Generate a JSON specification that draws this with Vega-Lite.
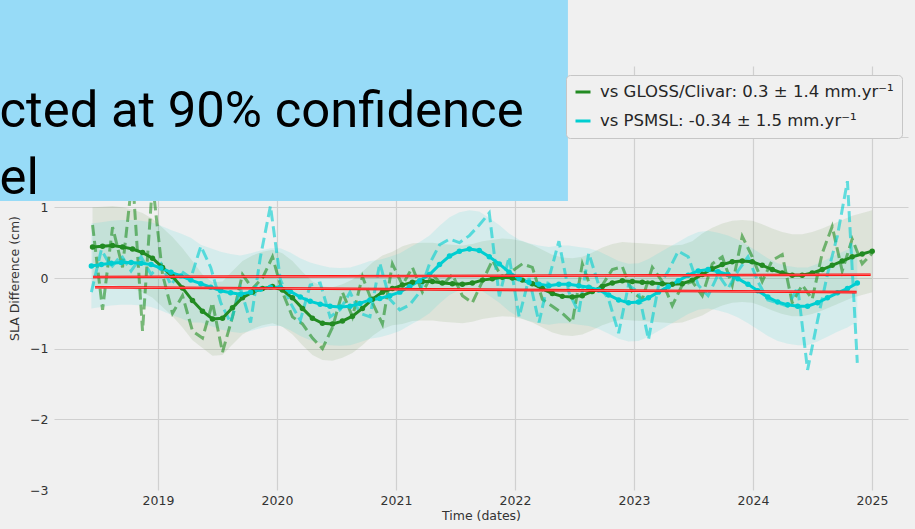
{
"$schema":"https://vega.github.io/schema/vega-lite/v6.json",
"width":854,"height":424,
"autosize":{"type":"none"},
"padding":{"left":54,"top":66,"right":7,"bottom":39},
"background":"#f0f0f0",
"config":{
 "view":{"stroke":null},
 "font":"DejaVu Sans",
 "axis":{"zindex":0,"grid":true,"gridColor":"#d0d0d0","gridWidth":1.2,"domain":false,"ticks":false,"labelFont":"DejaVu Sans","labelFontSize":12.5,"labelColor":"#333333","titleFont":"DejaVu Sans","titleFontSize":12.5,"titleFontWeight":"normal","titleColor":"#333333"}
},
"datasets":{
"series":[
{"s":"G","t":2018.450,"raw":0.75,"sm":0.44,"lo":-0.12,"hi":1.00},
{"s":"G","t":2018.534,"raw":-0.45,"sm":0.45,"lo":-0.11,"hi":1.01},
{"s":"G","t":2018.618,"raw":0.72,"sm":0.46,"lo":-0.10,"hi":1.02},
{"s":"G","t":2018.702,"raw":0.15,"sm":0.44,"lo":-0.12,"hi":1.00},
{"s":"G","t":2018.786,"raw":1.45,"sm":0.41,"lo":-0.15,"hi":0.97},
{"s":"G","t":2018.870,"raw":-0.75,"sm":0.36,"lo":-0.20,"hi":0.92},
{"s":"G","t":2018.954,"raw":1.35,"sm":0.28,"lo":-0.28,"hi":0.84},
{"s":"G","t":2019.038,"raw":0.05,"sm":0.15,"lo":-0.41,"hi":0.71},
{"s":"G","t":2019.122,"raw":-0.50,"sm":0.02,"lo":-0.54,"hi":0.58},
{"s":"G","t":2019.206,"raw":-0.25,"sm":-0.14,"lo":-0.70,"hi":0.42},
{"s":"G","t":2019.290,"raw":-0.75,"sm":-0.32,"lo":-0.88,"hi":0.24},
{"s":"G","t":2019.374,"raw":-0.85,"sm":-0.47,"lo":-0.99,"hi":0.05},
{"s":"G","t":2019.458,"raw":-0.35,"sm":-0.58,"lo":-1.10,"hi":-0.06},
{"s":"G","t":2019.542,"raw":-1.05,"sm":-0.57,"lo":-1.09,"hi":-0.05},
{"s":"G","t":2019.626,"raw":-0.55,"sm":-0.42,"lo":-0.94,"hi":0.10},
{"s":"G","t":2019.710,"raw":0.05,"sm":-0.28,"lo":-0.80,"hi":0.24},
{"s":"G","t":2019.794,"raw":-0.15,"sm":-0.20,"lo":-0.72,"hi":0.32},
{"s":"G","t":2019.878,"raw":0.00,"sm":-0.15,"lo":-0.67,"hi":0.37},
{"s":"G","t":2019.962,"raw":0.30,"sm":-0.12,"lo":-0.64,"hi":0.40},
{"s":"G","t":2020.046,"raw":-0.20,"sm":-0.17,"lo":-0.69,"hi":0.35},
{"s":"G","t":2020.130,"raw":-0.55,"sm":-0.28,"lo":-0.80,"hi":0.24},
{"s":"G","t":2020.214,"raw":-0.65,"sm":-0.43,"lo":-0.95,"hi":0.09},
{"s":"G","t":2020.298,"raw":-0.85,"sm":-0.57,"lo":-1.09,"hi":-0.05},
{"s":"G","t":2020.382,"raw":-1.00,"sm":-0.64,"lo":-1.16,"hi":-0.12},
{"s":"G","t":2020.466,"raw":-0.70,"sm":-0.65,"lo":-1.17,"hi":-0.13},
{"s":"G","t":2020.550,"raw":-0.20,"sm":-0.61,"lo":-1.13,"hi":-0.09},
{"s":"G","t":2020.634,"raw":-0.55,"sm":-0.54,"lo":-1.06,"hi":-0.02},
{"s":"G","t":2020.718,"raw":0.02,"sm":-0.43,"lo":-0.95,"hi":0.09},
{"s":"G","t":2020.802,"raw":-0.35,"sm":-0.30,"lo":-0.82,"hi":0.22},
{"s":"G","t":2020.886,"raw":-0.65,"sm":-0.20,"lo":-0.72,"hi":0.32},
{"s":"G","t":2020.970,"raw":0.20,"sm":-0.15,"lo":-0.67,"hi":0.37},
{"s":"G","t":2021.054,"raw":-0.10,"sm":-0.10,"lo":-0.65,"hi":0.45},
{"s":"G","t":2021.138,"raw":0.15,"sm":-0.06,"lo":-0.61,"hi":0.49},
{"s":"G","t":2021.222,"raw":-0.20,"sm":-0.05,"lo":-0.60,"hi":0.50},
{"s":"G","t":2021.306,"raw":0.05,"sm":-0.05,"lo":-0.60,"hi":0.50},
{"s":"G","t":2021.390,"raw":-0.10,"sm":-0.07,"lo":-0.62,"hi":0.48},
{"s":"G","t":2021.474,"raw":0.05,"sm":-0.08,"lo":-0.63,"hi":0.47},
{"s":"G","t":2021.558,"raw":-0.25,"sm":-0.09,"lo":-0.64,"hi":0.46},
{"s":"G","t":2021.642,"raw":-0.35,"sm":-0.07,"lo":-0.62,"hi":0.48},
{"s":"G","t":2021.726,"raw":-0.05,"sm":-0.03,"lo":-0.58,"hi":0.52},
{"s":"G","t":2021.810,"raw":0.25,"sm":-0.01,"lo":-0.56,"hi":0.54},
{"s":"G","t":2021.894,"raw":0.00,"sm":0.01,"lo":-0.54,"hi":0.56},
{"s":"G","t":2021.978,"raw":0.10,"sm":0.00,"lo":-0.55,"hi":0.55},
{"s":"G","t":2022.062,"raw":0.20,"sm":-0.03,"lo":-0.58,"hi":0.52},
{"s":"G","t":2022.146,"raw":0.15,"sm":-0.08,"lo":-0.63,"hi":0.47},
{"s":"G","t":2022.230,"raw":-0.30,"sm":-0.15,"lo":-0.70,"hi":0.40},
{"s":"G","t":2022.314,"raw":-0.40,"sm":-0.22,"lo":-0.77,"hi":0.33},
{"s":"G","t":2022.398,"raw":-0.50,"sm":-0.26,"lo":-0.81,"hi":0.29},
{"s":"G","t":2022.482,"raw":-0.63,"sm":-0.27,"lo":-0.82,"hi":0.28},
{"s":"G","t":2022.566,"raw":0.20,"sm":-0.25,"lo":-0.80,"hi":0.30},
{"s":"G","t":2022.650,"raw":-0.20,"sm":-0.19,"lo":-0.74,"hi":0.36},
{"s":"G","t":2022.734,"raw":-0.10,"sm":-0.12,"lo":-0.67,"hi":0.43},
{"s":"G","t":2022.818,"raw":0.12,"sm":-0.07,"lo":-0.62,"hi":0.48},
{"s":"G","t":2022.902,"raw":0.16,"sm":-0.04,"lo":-0.59,"hi":0.51},
{"s":"G","t":2022.986,"raw":-0.20,"sm":-0.05,"lo":-0.60,"hi":0.50},
{"s":"G","t":2023.070,"raw":-0.30,"sm":-0.06,"lo":-0.61,"hi":0.49},
{"s":"G","t":2023.154,"raw":0.15,"sm":-0.07,"lo":-0.62,"hi":0.48},
{"s":"G","t":2023.238,"raw":-0.05,"sm":-0.08,"lo":-0.63,"hi":0.47},
{"s":"G","t":2023.322,"raw":-0.39,"sm":-0.09,"lo":-0.64,"hi":0.46},
{"s":"G","t":2023.406,"raw":-0.10,"sm":-0.08,"lo":-0.63,"hi":0.47},
{"s":"G","t":2023.490,"raw":-0.05,"sm":-0.03,"lo":-0.58,"hi":0.52},
{"s":"G","t":2023.574,"raw":-0.25,"sm":0.05,"lo":-0.53,"hi":0.63},
{"s":"G","t":2023.658,"raw":0.20,"sm":0.13,"lo":-0.45,"hi":0.71},
{"s":"G","t":2023.742,"raw":0.30,"sm":0.19,"lo":-0.39,"hi":0.77},
{"s":"G","t":2023.826,"raw":-0.10,"sm":0.23,"lo":-0.35,"hi":0.81},
{"s":"G","t":2023.910,"raw":0.59,"sm":0.24,"lo":-0.34,"hi":0.82},
{"s":"G","t":2023.994,"raw":0.30,"sm":0.23,"lo":-0.35,"hi":0.81},
{"s":"G","t":2024.078,"raw":-0.05,"sm":0.18,"lo":-0.40,"hi":0.76},
{"s":"G","t":2024.162,"raw":0.25,"sm":0.12,"lo":-0.46,"hi":0.70},
{"s":"G","t":2024.246,"raw":0.33,"sm":0.07,"lo":-0.51,"hi":0.65},
{"s":"G","t":2024.330,"raw":-0.35,"sm":0.04,"lo":-0.54,"hi":0.62},
{"s":"G","t":2024.414,"raw":-0.10,"sm":0.04,"lo":-0.54,"hi":0.62},
{"s":"G","t":2024.498,"raw":-0.30,"sm":0.07,"lo":-0.51,"hi":0.65},
{"s":"G","t":2024.582,"raw":0.35,"sm":0.12,"lo":-0.46,"hi":0.70},
{"s":"G","t":2024.666,"raw":0.73,"sm":0.18,"lo":-0.40,"hi":0.76},
{"s":"G","t":2024.750,"raw":0.10,"sm":0.24,"lo":-0.34,"hi":0.82},
{"s":"G","t":2024.834,"raw":0.55,"sm":0.30,"lo":-0.28,"hi":0.88},
{"s":"G","t":2024.918,"raw":0.20,"sm":0.34,"lo":-0.24,"hi":0.92},
{"s":"G","t":2025.002,"raw":0.35,"sm":0.38,"lo":-0.20,"hi":0.96},
{"s":"C","t":2018.440,"raw":-0.20,"sm":0.17,"lo":-0.43,"hi":0.77},
{"s":"C","t":2018.524,"raw":0.40,"sm":0.19,"lo":-0.41,"hi":0.79},
{"s":"C","t":2018.607,"raw":0.15,"sm":0.21,"lo":-0.39,"hi":0.81},
{"s":"C","t":2018.691,"raw":0.32,"sm":0.22,"lo":-0.38,"hi":0.82},
{"s":"C","t":2018.774,"raw":0.10,"sm":0.22,"lo":-0.38,"hi":0.82},
{"s":"C","t":2018.858,"raw":0.30,"sm":0.21,"lo":-0.39,"hi":0.81},
{"s":"C","t":2018.942,"raw":0.05,"sm":0.19,"lo":-0.41,"hi":0.79},
{"s":"C","t":2019.025,"raw":0.20,"sm":0.14,"lo":-0.46,"hi":0.74},
{"s":"C","t":2019.109,"raw":-0.10,"sm":0.08,"lo":-0.52,"hi":0.68},
{"s":"C","t":2019.192,"raw":0.10,"sm":0.03,"lo":-0.57,"hi":0.63},
{"s":"C","t":2019.276,"raw":0.00,"sm":-0.03,"lo":-0.63,"hi":0.57},
{"s":"C","t":2019.360,"raw":0.45,"sm":-0.08,"lo":-0.63,"hi":0.47},
{"s":"C","t":2019.443,"raw":0.15,"sm":-0.13,"lo":-0.68,"hi":0.42},
{"s":"C","t":2019.527,"raw":-0.35,"sm":-0.18,"lo":-0.73,"hi":0.37},
{"s":"C","t":2019.610,"raw":-0.63,"sm":-0.21,"lo":-0.76,"hi":0.34},
{"s":"C","t":2019.694,"raw":-0.15,"sm":-0.23,"lo":-0.78,"hi":0.32},
{"s":"C","t":2019.778,"raw":-0.63,"sm":-0.20,"lo":-0.75,"hi":0.35},
{"s":"C","t":2019.861,"raw":0.30,"sm":-0.16,"lo":-0.71,"hi":0.39},
{"s":"C","t":2019.945,"raw":1.02,"sm":-0.13,"lo":-0.68,"hi":0.42},
{"s":"C","t":2020.028,"raw":-0.02,"sm":-0.13,"lo":-0.68,"hi":0.42},
{"s":"C","t":2020.112,"raw":-0.35,"sm":-0.19,"lo":-0.74,"hi":0.36},
{"s":"C","t":2020.196,"raw":-0.60,"sm":-0.27,"lo":-0.82,"hi":0.28},
{"s":"C","t":2020.279,"raw":-0.10,"sm":-0.33,"lo":-0.88,"hi":0.22},
{"s":"C","t":2020.363,"raw":-0.07,"sm":-0.37,"lo":-0.92,"hi":0.18},
{"s":"C","t":2020.446,"raw":-0.55,"sm":-0.40,"lo":-0.95,"hi":0.15},
{"s":"C","t":2020.530,"raw":-0.45,"sm":-0.41,"lo":-0.96,"hi":0.14},
{"s":"C","t":2020.614,"raw":-0.20,"sm":-0.40,"lo":-0.95,"hi":0.15},
{"s":"C","t":2020.697,"raw":-0.50,"sm":-0.36,"lo":-0.91,"hi":0.19},
{"s":"C","t":2020.781,"raw":-0.55,"sm":-0.31,"lo":-0.86,"hi":0.24},
{"s":"C","t":2020.864,"raw":0.21,"sm":-0.29,"lo":-0.84,"hi":0.26},
{"s":"C","t":2020.948,"raw":-0.30,"sm":-0.25,"lo":-0.80,"hi":0.30},
{"s":"C","t":2021.032,"raw":-0.45,"sm":-0.20,"lo":-0.75,"hi":0.35},
{"s":"C","t":2021.115,"raw":-0.38,"sm":-0.12,"lo":-0.67,"hi":0.43},
{"s":"C","t":2021.199,"raw":-0.20,"sm":-0.04,"lo":-0.59,"hi":0.51},
{"s":"C","t":2021.282,"raw":0.20,"sm":0.05,"lo":-0.50,"hi":0.60},
{"s":"C","t":2021.366,"raw":0.47,"sm":0.19,"lo":-0.36,"hi":0.74},
{"s":"C","t":2021.450,"raw":0.55,"sm":0.31,"lo":-0.24,"hi":0.86},
{"s":"C","t":2021.533,"raw":0.50,"sm":0.38,"lo":-0.17,"hi":0.93},
{"s":"C","t":2021.617,"raw":0.60,"sm":0.41,"lo":-0.14,"hi":0.96},
{"s":"C","t":2021.700,"raw":0.75,"sm":0.39,"lo":-0.16,"hi":0.94},
{"s":"C","t":2021.784,"raw":0.92,"sm":0.30,"lo":-0.25,"hi":0.85},
{"s":"C","t":2021.868,"raw":-0.26,"sm":0.20,"lo":-0.35,"hi":0.75},
{"s":"C","t":2021.951,"raw":0.30,"sm":0.08,"lo":-0.47,"hi":0.63},
{"s":"C","t":2022.035,"raw":-0.55,"sm":-0.01,"lo":-0.56,"hi":0.54},
{"s":"C","t":2022.118,"raw":0.00,"sm":-0.06,"lo":-0.61,"hi":0.49},
{"s":"C","t":2022.202,"raw":-0.63,"sm":-0.09,"lo":-0.64,"hi":0.46},
{"s":"C","t":2022.286,"raw":0.00,"sm":-0.11,"lo":-0.66,"hi":0.44},
{"s":"C","t":2022.369,"raw":0.52,"sm":-0.09,"lo":-0.64,"hi":0.46},
{"s":"C","t":2022.453,"raw":-0.20,"sm":-0.09,"lo":-0.64,"hi":0.46},
{"s":"C","t":2022.536,"raw":-0.49,"sm":-0.11,"lo":-0.66,"hi":0.44},
{"s":"C","t":2022.620,"raw":0.35,"sm":-0.13,"lo":-0.68,"hi":0.42},
{"s":"C","t":2022.704,"raw":-0.10,"sm":-0.17,"lo":-0.72,"hi":0.38},
{"s":"C","t":2022.787,"raw":-0.30,"sm":-0.24,"lo":-0.79,"hi":0.31},
{"s":"C","t":2022.871,"raw":-0.78,"sm":-0.31,"lo":-0.86,"hi":0.24},
{"s":"C","t":2022.954,"raw":-0.10,"sm":-0.35,"lo":-0.90,"hi":0.20},
{"s":"C","t":2023.038,"raw":-0.20,"sm":-0.34,"lo":-0.89,"hi":0.21},
{"s":"C","t":2023.122,"raw":-0.87,"sm":-0.28,"lo":-0.83,"hi":0.27},
{"s":"C","t":2023.205,"raw":-0.12,"sm":-0.20,"lo":-0.75,"hi":0.35},
{"s":"C","t":2023.289,"raw":0.10,"sm":-0.12,"lo":-0.67,"hi":0.43},
{"s":"C","t":2023.372,"raw":0.38,"sm":-0.04,"lo":-0.59,"hi":0.51},
{"s":"C","t":2023.456,"raw":0.30,"sm":0.04,"lo":-0.51,"hi":0.59},
{"s":"C","t":2023.540,"raw":-0.10,"sm":0.10,"lo":-0.45,"hi":0.65},
{"s":"C","t":2023.623,"raw":-0.25,"sm":0.12,"lo":-0.43,"hi":0.67},
{"s":"C","t":2023.707,"raw":0.05,"sm":0.09,"lo":-0.46,"hi":0.64},
{"s":"C","t":2023.790,"raw":-0.15,"sm":0.05,"lo":-0.50,"hi":0.60},
{"s":"C","t":2023.874,"raw":0.10,"sm":-0.01,"lo":-0.56,"hi":0.54},
{"s":"C","t":2023.958,"raw":0.30,"sm":-0.09,"lo":-0.64,"hi":0.46},
{"s":"C","t":2024.041,"raw":-0.05,"sm":-0.18,"lo":-0.73,"hi":0.37},
{"s":"C","t":2024.125,"raw":-0.31,"sm":-0.27,"lo":-0.82,"hi":0.28},
{"s":"C","t":2024.208,"raw":-0.35,"sm":-0.34,"lo":-0.89,"hi":0.21},
{"s":"C","t":2024.292,"raw":-0.40,"sm":-0.38,"lo":-0.93,"hi":0.17},
{"s":"C","t":2024.376,"raw":-0.13,"sm":-0.40,"lo":-0.95,"hi":0.15},
{"s":"C","t":2024.459,"raw":-1.30,"sm":-0.40,"lo":-0.95,"hi":0.15},
{"s":"C","t":2024.543,"raw":-0.60,"sm":-0.35,"lo":-0.90,"hi":0.20},
{"s":"C","t":2024.626,"raw":0.05,"sm":-0.28,"lo":-0.83,"hi":0.27},
{"s":"C","t":2024.710,"raw":0.60,"sm":-0.21,"lo":-0.76,"hi":0.34},
{"s":"C","t":2024.794,"raw":1.37,"sm":-0.15,"lo":-0.70,"hi":0.40},
{"s":"C","t":2024.877,"raw":-1.20,"sm":-0.07,"lo":-0.62,"hi":0.48}
],
"trend":[
{"id":"g","t":2018.454,"v":0.014},
{"id":"g","t":2024.989,"v":0.047},
{"id":"c","t":2018.471,"v":-0.13},
{"id":"c","t":2024.871,"v":-0.20}
],
"note":[{"label":"cted at 90% confidence\nel"}]
},
"layer":[
 {"data":{"name":"series"},"transform":[{"filter":{"field":"s","equal":"G"}}],"mark":{"type":"area","color":"#5a8f3a","fillOpacity":0.12},
  "encoding":{
   "x":{"field":"t","type":"quantitative","title":"Time (dates)","scale":{"domain":[2018.126,2025.303],"nice":false,"zero":false},"axis":{"values":[2019,2020,2021,2022,2023,2024,2025],"format":"d","labelPadding":4,"titlePadding":3}},
   "y":{"field":"lo","type":"quantitative","title":"SLA Difference (cm)","scale":{"domain":[-3,3],"nice":false,"zero":false},"axis":{"values":[-3,-2,-1,0,1,2,3],"format":"d","labelExpr":"datum.value >= 2 ? '' : datum.label","labelPadding":6,"titlePadding":8,"gridOpacity":{"condition":{"test":"abs(datum.value) == 3","value":0},"value":1}}},
   "y2":{"field":"hi"}}},
 {"data":{"name":"series"},"transform":[{"filter":{"field":"s","equal":"C"}}],"mark":{"type":"area","color":"#00ced1","fillOpacity":0.11},
  "encoding":{
   "x":{"field":"t","type":"quantitative","title":"Time (dates)"},
   "y":{"field":"lo","type":"quantitative","title":"SLA Difference (cm)"},
   "y2":{"field":"hi"}}},
 {"data":{"name":"series"},"transform":[{"filter":{"field":"s","equal":"G"}}],"mark":{"type":"line","color":"#008000","strokeDash":[11,5],"strokeWidth":3,"opacity":0.5},
  "encoding":{
   "x":{"field":"t","type":"quantitative","title":"Time (dates)"},
   "y":{"field":"raw","type":"quantitative","title":"SLA Difference (cm)"}}},
 {"data":{"name":"series"},"transform":[{"filter":{"field":"s","equal":"C"}}],"mark":{"type":"line","color":"#00ced1","strokeDash":[11,5],"strokeWidth":3,"opacity":0.6},
  "encoding":{
   "x":{"field":"t","type":"quantitative","title":"Time (dates)"},
   "y":{"field":"raw","type":"quantitative","title":"SLA Difference (cm)"}}},
 {"data":{"name":"series"},"mark":{"type":"line","strokeWidth":3,"point":{"filled":true,"size":30}},
  "encoding":{
   "x":{"field":"t","type":"quantitative","title":"Time (dates)"},
   "y":{"field":"sm","type":"quantitative","title":"SLA Difference (cm)"},
   "color":{"field":"s","type":"nominal","scale":{"domain":["G","C"],"range":["#228b22","#00ced1"]},
    "legend":{"orient":"none","legendX":512,"legendY":9,"title":null,"symbolType":"stroke","symbolSize":225,"symbolStrokeWidth":3,"labelFont":"DejaVu Sans","labelFontSize":16.5,"labelColor":"#262626","labelOffset":8,"labelLimit":600,"padding":8,"rowPadding":11,"strokeColor":"#c6c6c6","fillColor":"#f0f0f0","cornerRadius":4,
     "labelExpr":"datum.value == 'G' ? 'vs GLOSS/Clivar: 0.3 ± 1.4 mm.yr⁻¹' : 'vs PSMSL: -0.34 ± 1.5 mm.yr⁻¹'"}}}},
 {"data":{"name":"trend"},"mark":{"type":"line","color":"#ff0000","strokeWidth":2.6},
  "encoding":{"x":{"field":"t","type":"quantitative","title":"Time (dates)"},"y":{"field":"v","type":"quantitative","title":"SLA Difference (cm)"},"detail":{"field":"id"}}},
 {"data":{"name":"trend"},"mark":{"type":"line","color":"#ff8080","strokeWidth":0.8},
  "encoding":{"x":{"field":"t","type":"quantitative","title":"Time (dates)"},"y":{"field":"v","type":"quantitative","title":"SLA Difference (cm)"},"detail":{"field":"id"}}},
 {"data":{"name":"note"},"mark":{"type":"rect","color":"#97dbf7","opacity":1},
  "encoding":{
   "x":{"datum":2017.4,"type":"quantitative","title":"Time (dates)"},"x2":{"datum":2022.445},
   "y":{"datum":4.3,"type":"quantitative","title":"SLA Difference (cm)"},"y2":{"datum":1.09}}},
 {"data":{"name":"note"},"mark":{"type":"text","font":"Roboto","fontSize":50.8,"align":"left","baseline":"alphabetic","lineBreak":"\n","lineHeight":67,"color":"#000000"},
  "encoding":{
   "x":{"datum":2017.668,"type":"quantitative","title":"Time (dates)"},
   "y":{"datum":2.137,"type":"quantitative","title":"SLA Difference (cm)"},
   "text":{"field":"label"}}}
]
}
